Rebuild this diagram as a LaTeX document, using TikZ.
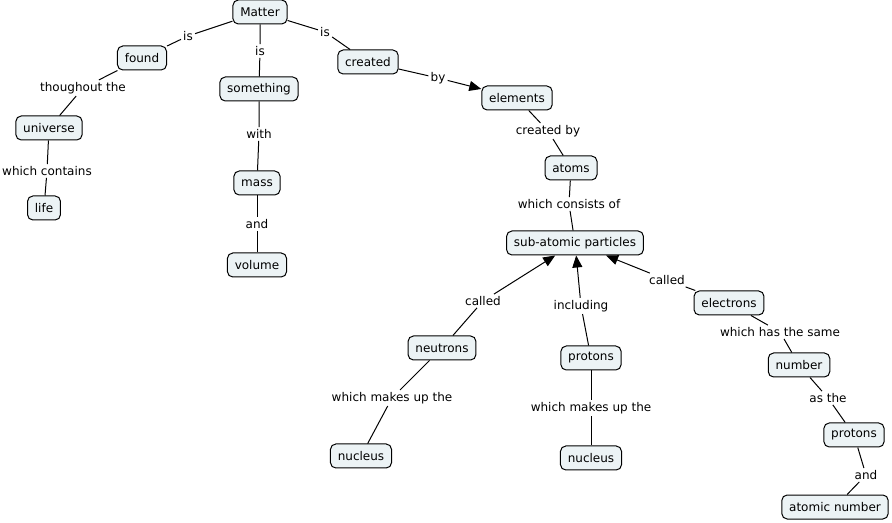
\documentclass[tikz,border=0pt]{standalone}
\usepackage{fontspec}
\setmainfont{DejaVu Sans}
\usetikzlibrary{arrows.meta}
\definecolor{nodefill}{RGB}{236,243,245}
\begin{document}
\begin{tikzpicture}[x=0.75pt,y=-0.75pt,
  concept/.style={draw=black, line width=0.75pt, fill=nodefill, rounded corners=4pt, inner xsep=5.5pt, minimum height=18pt, font=\fontsize{9}{10}\selectfont},
  link/.style={inner sep=1.5pt, font=\fontsize{9}{10}\selectfont},
  conn/.style={draw=black, line width=0.75pt},
  arr/.style={conn, -{Triangle[length=9pt,width=7.5pt]}}]
\useasboundingbox (0,0) rectangle (892,523);
% concepts
\node[concept] (matter) at (260,12) {Matter};
\node[concept] (found) at (142,58) {found};
\node[concept] (something) at (259,89) {something};
\node[concept] (created) at (368,62) {created};
\node[concept] (elements) at (517,98) {elements};
\node[concept] (universe) at (49,128) {universe};
\node[concept] (life) at (44,208) {life};
\node[concept] (mass) at (257,183) {mass};
\node[concept] (volume) at (257,265) {volume};
\node[concept] (atoms) at (571,168) {atoms};
\node[concept] (sub) at (575,243) {sub-atomic particles};
\node[concept] (neutrons) at (442,348) {neutrons};
\node[concept] (protonsA) at (591,358) {protons};
\node[concept] (electrons) at (729,303) {electrons};
\node[concept] (nucleusA) at (361,456) {nucleus};
\node[concept] (nucleusB) at (591,458) {nucleus};
\node[concept] (number) at (799,365) {number};
\node[concept] (protonsB) at (854,435) {protons};
\node[concept] (atomic) at (835,507) {atomic number};
% link labels
\node[link] (l1) at (188,36) {is};
\node[link] (l2) at (260,51) {is};
\node[link] (l3) at (325,32) {is};
\node[link] (l4) at (438,78) {by};
\node[link] (l5) at (83,88) {thoughout the};
\node[link] (l6) at (47,171) {which contains};
\node[link] (l7) at (259,134) {with};
\node[link] (l8) at (257,224) {and};
\node[link] (l9) at (548,131) {created by};
\node[link] (l10) at (569,204) {which consists of};
\node[link] (l11) at (483,301) {called};
\node[link] (l12) at (581,306) {including};
\node[link] (l13) at (667,280) {called};
\node[link] (l14) at (392,398) {which makes up the};
\node[link] (l15) at (591,408) {which makes up the};
\node[link] (l16) at (780,332) {which has the same};
\node[link] (l17) at (828,398) {as the};
\node[link] (l18) at (866,475) {and};
% connectors
\draw[conn] (matter) -- (l1) -- (found);
\draw[conn] (matter) -- (l2) -- (something);
\draw[conn] (matter) -- (l3) -- (created);
\draw[conn] (created) -- (l4);
\draw[arr] (l4) -- (elements);
\draw[conn] (found) -- (l5) -- (universe);
\draw[conn] (universe) -- (l6) -- (life);
\draw[conn] (something) -- (l7) -- (mass);
\draw[conn] (mass) -- (l8) -- (volume);
\draw[conn] (elements) -- (l9) -- (atoms);
\draw[conn] (atoms) -- (l10) -- (sub);
\draw[conn] (neutrons) -- (l11);
\draw[arr] (l11) -- (sub);
\draw[conn] (protonsA) -- (l12);
\draw[arr] (l12) -- (sub);
\draw[conn] (electrons) -- (l13);
\draw[arr] (l13) -- (sub);
\draw[conn] (neutrons) -- (l14) -- (nucleusA);
\draw[conn] (protonsA) -- (l15) -- (nucleusB);
\draw[conn] (electrons) -- (l16) -- (number);
\draw[conn] (number) -- (l17) -- (protonsB);
\draw[conn] (protonsB) -- (l18) -- (atomic);
\end{tikzpicture}
\end{document}
